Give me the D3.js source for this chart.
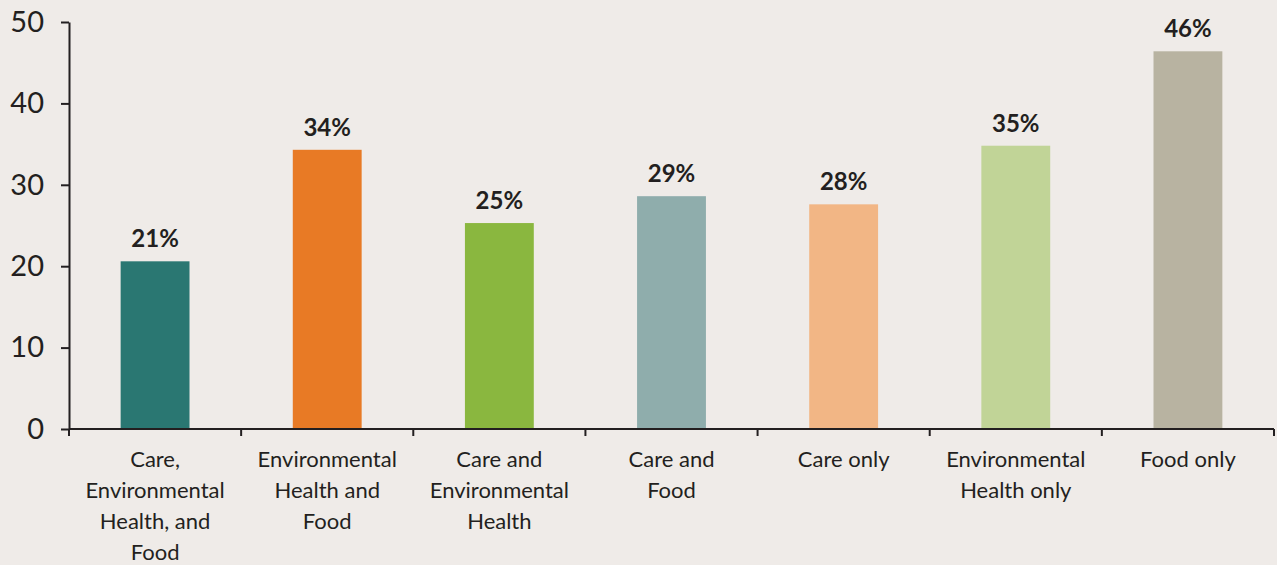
<!DOCTYPE html>
<html>
<head>
<meta charset="utf-8">
<script src="https://cdn.jsdelivr.net/npm/d3@7"></script>
<style>
  body { margin: 0; background: #efebe8; }
  #chart text { font-family: Lato, "Open Sans", sans-serif; fill: #231f20; }
</style>
</head>
<body>
<div id="chart"></div>
<script>
// Data
var categories = [
  ["Care,", "Environmental", "Health, and", "Food"],
  ["Environmental", "Health and", "Food"],
  ["Care and", "Environmental", "Health"],
  ["Care and", "Food"],
  ["Care only"],
  ["Environmental", "Health only"],
  ["Food only"]
];
var values = [20.6, 34.3, 25.3, 28.6, 27.6, 34.8, 46.4];
var valueLabels = ["21%", "34%", "25%", "29%", "28%", "35%", "46%"];
var colors = ["#2a7772", "#e87a25", "#8ab73f", "#8fadac", "#f2b685", "#c1d497", "#b8b3a1"];
var yTicks = [0, 10, 20, 30, 40, 50];

var margin = {top: 22, right: 3, bottom: 136, left: 69},
    width = 1277 - margin.left - margin.right,
    height = 565 - margin.top - margin.bottom;

var svg = d3.select("#chart")
  .append("svg")
    .attr("width", 1277)
    .attr("height", 565)
  .append("g")
    .attr("transform", `translate(${margin.left},${margin.top})`);

var idx = d3.range(values.length);

var x = d3.scaleBand()
  .domain(idx)
  .range([0, width])
  .paddingInner(0.6)
  .paddingOuter(0.3);

var y = d3.scaleLinear()
  .domain([0, 50])
  .range([height, 0]);

// Y axis
var yAxis = svg.append("g")
  .call(d3.axisLeft(y).tickValues(yTicks).tickSize(8).tickSizeOuter(0).tickPadding(17));
yAxis.selectAll("text").style("font-size", "29px");
yAxis.selectAll("path, line").attr("stroke", "#231f20").attr("stroke-width", 2);

// Bars
svg.selectAll(".bar")
  .data(idx)
  .enter()
  .append("rect")
    .attr("class", "bar")
    .attr("x", i => x(i))
    .attr("width", x.bandwidth())
    .attr("y", i => y(values[i]))
    .attr("height", i => height - y(values[i]))
    .attr("fill", i => colors[i]);

// Value labels
svg.selectAll(".val")
  .data(idx)
  .enter()
  .append("text")
    .attr("class", "val")
    .attr("x", i => x(i) + x.bandwidth() / 2)
    .attr("y", i => y(values[i]) - 14)
    .attr("text-anchor", "middle")
    .style("font-size", "24px")
    .style("font-weight", "bold")
    .text(i => valueLabels[i]);

// X axis line with ticks on category boundaries
var xAxis = svg.append("g")
  .attr("transform", `translate(0,${height})`);
xAxis.append("line")
  .attr("x1", 0).attr("x2", width)
  .attr("stroke", "#231f20").attr("stroke-width", 2);
xAxis.selectAll(".bt")
  .data(d3.range(values.length + 1))
  .enter()
  .append("line")
    .attr("x1", i => i * x.step())
    .attr("x2", i => i * x.step())
    .attr("y1", 0).attr("y2", 7)
    .attr("stroke", "#231f20").attr("stroke-width", 2);

// Category labels
xAxis.selectAll(".cat")
  .data(idx)
  .enter()
  .append("text")
    .attr("class", "cat")
    .attr("text-anchor", "middle")
    .attr("transform", i => `translate(${x(i) + x.bandwidth() / 2},38)`)
    .style("font-size", "22px")
  .selectAll("tspan")
  .data(i => categories[i])
  .enter()
  .append("tspan")
    .attr("x", 0)
    .attr("y", (d, j) => j * 31)
    .text(d => d);
</script>
</body>
</html>
